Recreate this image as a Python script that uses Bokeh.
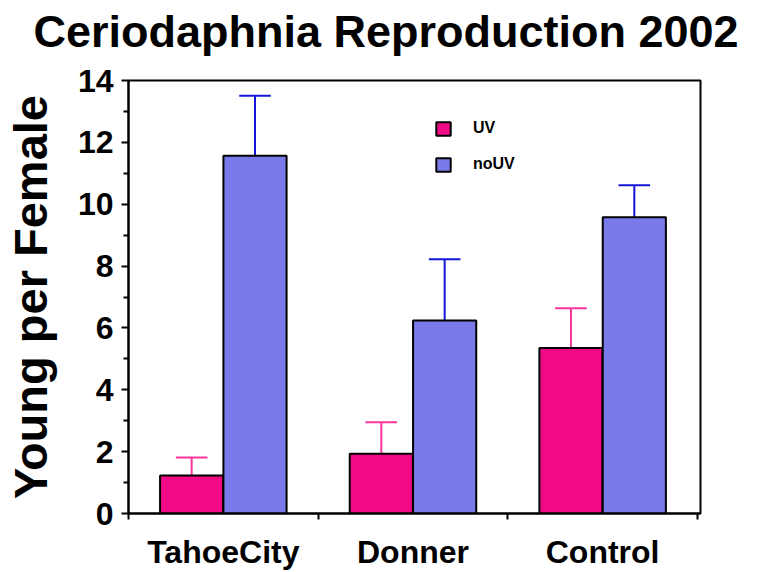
import numpy as np
from bokeh.plotting import figure
from bokeh.models import (Range1d, FixedTicker, Legend, LegendItem, ColumnDataSource, Title)
from bokeh.embed import file_html
from bokeh.resources import INLINE

# ---- data ----
sites = ["TahoeCity", "Donner", "Control"]
uv_mean = [1.23, 1.93, 5.35]
uv_err = [0.58, 1.02, 1.29]
nouv_mean = [11.57, 6.24, 9.58]
nouv_err = [1.94, 1.98, 1.03]
y_ticks = [0, 2, 4, 6, 8, 10, 12, 14]
y_tick_labels = ["0", "2", "4", "6", "8", "10", "12", "14"]
title_text = "Ceriodaphnia Reproduction 2002"
y_label_text = "Young per Female"

FONT = "Liberation Sans"
UV_FILL = "#F00A85"
NOUV_FILL = "#7A7AEA"
UV_ERR = "#F8339A"
NOUV_ERR = "#1414D6"

bar_w = 0.333
offset = 0.167
centers = np.arange(len(sites)) + 0.5
uv_x = centers - offset
nouv_x = centers + offset

uv_src = ColumnDataSource(dict(x=uv_x, top=uv_mean,
                               up=np.array(uv_mean) + np.array(uv_err),
                               c0=uv_x - bar_w / 4, c1=uv_x + bar_w / 4))
nouv_src = ColumnDataSource(dict(x=nouv_x, top=nouv_mean,
                                 up=np.array(nouv_mean) + np.array(nouv_err),
                                 c0=nouv_x - bar_w / 4, c1=nouv_x + bar_w / 4))

p = figure(width=762, height=572, output_backend="svg", toolbar_location=None,
           x_range=Range1d(0, 3.016), y_range=Range1d(0, 14),
           min_border_left=127, min_border_right=62, min_border_top=80, min_border_bottom=59)
p.background_fill_color = "white"
p.border_fill_color = "white"
p.xgrid.visible = False
p.ygrid.visible = False
p.outline_line_color = "black"
p.outline_line_width = 2

# error bars (behind bars)
for src, col in ((uv_src, UV_ERR), (nouv_src, NOUV_ERR)):
    p.segment(x0="x", y0="top", x1="x", y1="up", source=src, line_color=col, line_width=2)
    p.segment(x0="c0", y0="up", x1="c1", y1="up", source=src, line_color=col, line_width=2)

r_uv = p.vbar(x="x", top="top", width=bar_w, bottom=0, source=uv_src,
              fill_color=UV_FILL, line_color="black", line_width=2)
r_nouv = p.vbar(x="x", top="top", width=bar_w, bottom=0, source=nouv_src,
                fill_color=NOUV_FILL, line_color="black", line_width=2)

# x axis
p.xaxis.ticker = FixedTicker(ticks=list(centers), minor_ticks=[0, 1, 2, 3])
p.xaxis.major_label_overrides = {float(c): s for c, s in zip(centers, sites)}
p.xaxis.major_tick_line_color = None
p.xaxis.minor_tick_line_color = "black"
p.xaxis.minor_tick_line_width = 2
p.xaxis.minor_tick_out = 6
p.xaxis.minor_tick_in = 0
p.xaxis.major_label_text_font = FONT
p.xaxis.major_label_text_font_style = "bold"
p.xaxis.major_label_text_font_size = "32px"
p.xaxis.major_label_text_color = "black"
p.xaxis.major_label_standoff = 14
p.xaxis.axis_line_width = 2
p.xaxis.axis_line_color = "black"

# y axis
p.yaxis.ticker = FixedTicker(ticks=y_ticks, minor_ticks=[1, 3, 5, 7, 9, 11, 13])
p.yaxis.major_label_overrides = {t: s for t, s in zip(y_ticks, y_tick_labels)}
p.yaxis.major_tick_line_width = 2
p.yaxis.major_tick_out = 7
p.yaxis.major_tick_in = 0
p.yaxis.minor_tick_line_width = 2
p.yaxis.minor_tick_out = 5
p.yaxis.minor_tick_in = 0
p.yaxis.major_label_text_font = FONT
p.yaxis.major_label_text_font_style = "bold"
p.yaxis.major_label_text_font_size = "32px"
p.yaxis.major_label_text_color = "black"
p.yaxis.major_label_standoff = 8
p.yaxis.axis_line_width = 2
p.yaxis.axis_line_color = "black"
p.yaxis.axis_label = y_label_text
p.yaxis.axis_label_text_font = FONT
p.yaxis.axis_label_text_font_style = "bold"
p.yaxis.axis_label_text_font_size = "47px"
p.yaxis.axis_label_text_color = "black"
p.yaxis.axis_label_standoff = 18

# spacer between frame and title (closest to the frame)
p.add_layout(Title(text=" ", text_font_size="1px", standoff=21), "above")

# chart title (outermost)
p.title = Title(text=title_text, align="left", offset=-95, standoff=0,
                text_font=FONT, text_font_style="bold", text_font_size="45px",
                text_color="black")

# legend
legend = Legend(items=[LegendItem(label="UV", renderers=[r_uv]),
                       LegendItem(label="noUV", renderers=[r_nouv])],
                location=(306, 340), glyph_width=18, glyph_height=17,
                label_height=17, spacing=18, padding=0, margin=0,
                label_standoff=21, label_text_font=FONT, label_text_font_style="bold",
                label_text_font_size="16px", label_text_color="black",
                border_line_color=None, background_fill_alpha=0)
p.add_layout(legend)

open("out.html", "w").write(file_html(p, INLINE))
